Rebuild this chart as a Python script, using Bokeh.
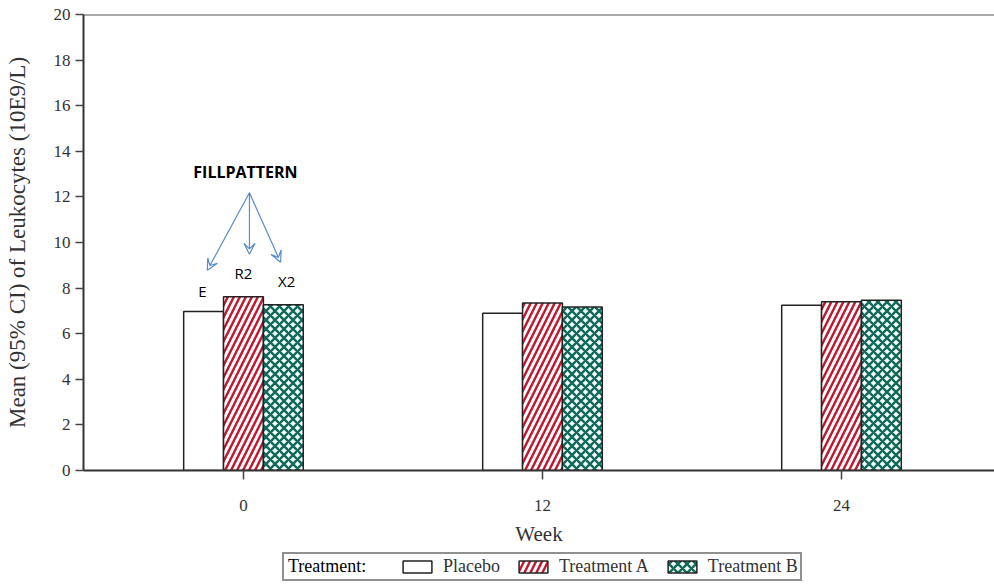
from bokeh.plotting import figure
from bokeh.models import (ColumnDataSource, FixedTicker, Range1d, Legend, LegendItem,
                          Span, Arrow, VeeHead, Label)
from bokeh.layouts import column
from bokeh.embed import file_html
from bokeh.resources import INLINE
from bokeh.transform import dodge

# ---- data ----
weeks = [0, 12, 24]
placebo = [6.97, 6.90, 7.25]
treatment_a = [7.62, 7.35, 7.40]
treatment_b = [7.27, 7.17, 7.47]
y_ticks = list(range(0, 21, 2))
series_names = ["Placebo", "Treatment A", "Treatment B"]
pattern_labels = ["E", "R2", "X2"]
legend_title = "Treatment:"

src = ColumnDataSource(dict(week=weeks, placebo=placebo, a=treatment_a, b=treatment_b))
cols = ["placebo", "a", "b"]

SERIF = "Liberation Serif"
TXT = "#333333"
RED = "#C3152E"
TEAL = "#0E6B5B"
OUT = "#222222"

styles = [
    dict(fill_color="white", line_color=OUT, line_width=1.5),
    dict(fill_color="white", line_color=OUT, line_width=1.5,
         hatch_pattern="right_diagonal_line", hatch_color=RED, hatch_scale=12, hatch_weight=2.4),
    dict(fill_color="white", line_color=OUT, line_width=1.5,
         hatch_pattern="diagonal_cross", hatch_color=TEAL, hatch_scale=9, hatch_weight=2.5),
]

p = figure(width=994, height=548, output_backend="svg", toolbar_location=None,
           x_range=Range1d(-6.42, 30.14), y_range=Range1d(0, 20),
           min_border_left=83, min_border_top=14, min_border_right=0, min_border_bottom=76)
p.outline_line_color = None
p.grid.grid_line_color = None

bw = 1.6
offsets = [-bw, 0, bw]
for c, off, s in zip(cols, offsets, styles):
    p.vbar(x=dodge("week", off, range=p.x_range), top=c, width=bw, source=src, **s)

# top border
p.add_layout(Span(location=20, dimension="width", line_color="#555555", line_width=2))

# axes
p.xaxis.ticker = FixedTicker(ticks=weeks)
p.yaxis.ticker = FixedTicker(ticks=y_ticks)
for ax in (p.xaxis, p.yaxis):
    ax.axis_line_color = "#333333"
    ax.axis_line_width = 2
    ax.major_tick_line_color = "#444444"
    ax.major_tick_line_width = 1.5
    ax.major_tick_in = 0
    ax.minor_tick_line_color = None
    ax.major_label_text_font = SERIF
    ax.major_label_text_font_size = "17px"
    ax.major_label_text_color = TXT
    ax.axis_label_text_font = SERIF
    ax.axis_label_text_font_style = "normal"
    ax.axis_label_text_color = TXT
p.xaxis.axis_label = "Week"
p.xaxis.axis_label_text_font_size = "21px"
p.yaxis.axis_label = "Mean (95% CI) of Leukocytes (10E9/L)"
p.yaxis.axis_label_text_font_size = "23px"
p.xaxis.major_tick_out = 9
p.yaxis.major_tick_out = 8
p.xaxis.major_label_standoff = 20
p.xaxis.axis_label_standoff = 8
p.yaxis.major_label_standoff = 5
p.yaxis.axis_label_standoff = 21

# annotation
BLUE = "#5B8ACB"
p.add_layout(Label(x=0.08, y=13.1, text="FILLPATTERN", text_font="Open Sans",
                   text_font_style="bold", text_font_size="16px", text_color="black",
                   text_align="center", text_baseline="middle"))
for (xe, ye) in [(-1.45, 8.78), (0.24, 9.48), (1.49, 9.13)]:
    p.add_layout(Arrow(x_start=0.24, y_start=12.18, x_end=xe, y_end=ye,
                       line_color=BLUE, line_width=1.2,
                       end=VeeHead(size=11, line_color=BLUE, line_width=1.2, fill_color=None)))
for (lx, ly, t) in zip([-1.65, 0.0, 1.73], [7.86, 8.65, 8.3], pattern_labels):
    p.add_layout(Label(x=lx, y=ly, text=t, text_font="Open Sans",
                       text_font_size="15px", text_color="black",
                       text_align="center", text_baseline="middle"))

# ---- legend strip (hidden proxy renderers supply the legend swatches) ----
q = figure(width=994, height=34, output_backend="svg", toolbar_location=None,
           x_range=Range1d(-6.42, 30.14), y_range=Range1d(0, 20),
           min_border_left=83, min_border_top=0, min_border_right=0, min_border_bottom=0)
q.axis.visible = False
q.grid.grid_line_color = None
q.outline_line_color = None
lr = [q.vbar(x="week", top=c, width=bw, source=src, visible=False, **s) for c, s in zip(cols, styles)]
r_dummy = q.vbar(x="week", top="placebo", width=bw, source=src, visible=False,
                 fill_alpha=0, line_alpha=0)

FRAME_LEFT = 83
PAD = 2
LEG_Y = 1
legend = Legend(items=[LegendItem(label="\u00a0" * 12, renderers=[r_dummy])] +
                      [LegendItem(label=n, renderers=[r]) for n, r in zip(series_names, lr)],
                orientation="horizontal", location=(282 - FRAME_LEFT, LEG_Y))
legend.label_text_font = SERIF
legend.label_text_font_size = "18px"
legend.label_text_color = TXT
legend.glyph_width = 36
legend.glyph_height = 15
legend.label_standoff = 8
legend.spacing = 15
legend.padding = PAD
legend.margin = 0
legend.border_line_color = "#222222"
legend.border_line_width = 2
legend.inactive_fill_alpha = 0
q.add_layout(legend)

title_leg = Legend(items=[LegendItem(label=legend_title, renderers=[r_dummy])],
                   orientation="horizontal", location=(290 - FRAME_LEFT - PAD, LEG_Y + 4))
title_leg.label_text_font = SERIF
title_leg.label_text_font_size = "18px"
title_leg.label_text_color = "black"
title_leg.glyph_width = 0
title_leg.glyph_height = 15
title_leg.label_standoff = 0
title_leg.padding = PAD
title_leg.margin = 0
title_leg.border_line_color = None
title_leg.background_fill_alpha = 0
title_leg.inactive_fill_alpha = 0
q.add_layout(title_leg)

layout = column(p, q, spacing=0)
open("out.html", "w").write(file_html(layout, INLINE))
